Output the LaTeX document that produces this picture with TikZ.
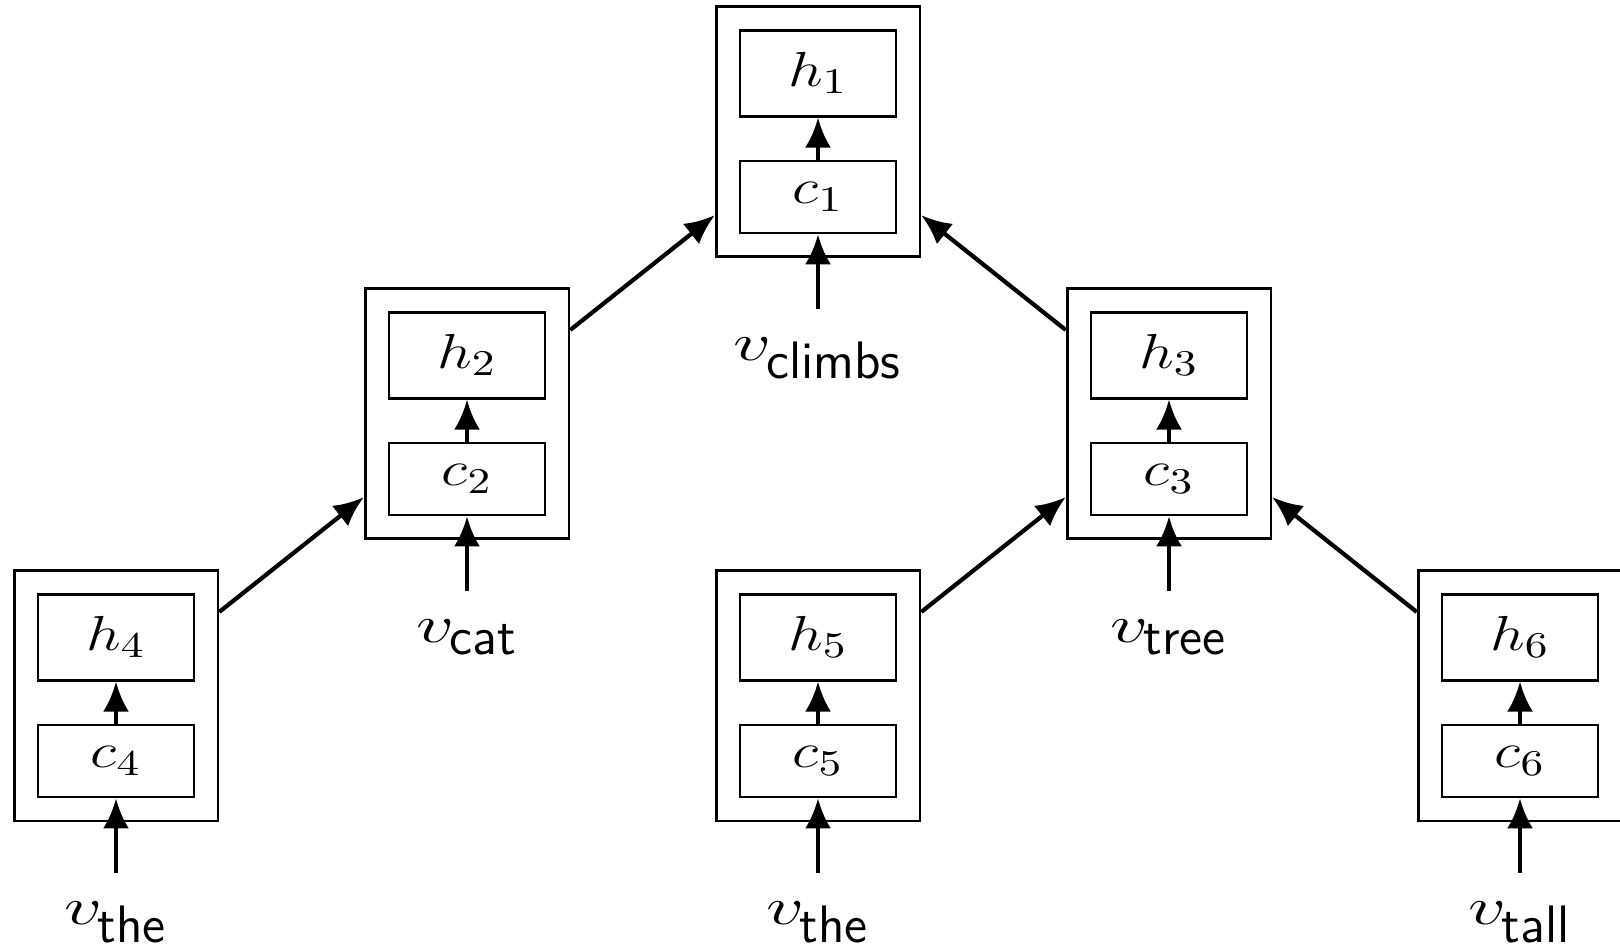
\RequirePackage{fix-cm}
\documentclass[tikz,border=0pt]{standalone}
\usepackage{tikz}
\usetikzlibrary{positioning,fit,arrows.meta}
\DeclareMathSizes{14}{14}{10.3}{8}
\DeclareMathSizes{15}{15}{10.4}{8}
\newcommand{\cellm}[2]{\scalebox{1.25}[1]{$#1_{#2}$}}
\newcommand{\wvec}[1]{${\scalebox{1.42}[1]{$v$}\kern-0.1em}_{\textsf{#1}}$}

\begin{document}
\begin{tikzpicture}[
	font=\fontsize{14}{17}\selectfont,
	hbox/.style={draw, line width=0.8pt, minimum width=1.56cm, minimum height=0.86cm, inner sep=0pt},
	cbox/.style={draw, line width=0.8pt, minimum width=1.56cm, minimum height=0.72cm, inner sep=0pt},
	cell/.style={draw, line width=0.8pt, inner sep=0.225cm},
	vlab/.style={inner sep=0pt, outer sep=0.28cm, font=\fontsize{15}{18}\selectfont},
	arr/.style={-{Latex[length=3mm,width=2.6mm]}, line width=1.2pt}
	]
	\pgfmathsetmacro{\xa}{1.16}
	\pgfmathsetmacro{\dx}{3.51}
	\pgfmathsetmacro{\ya}{-1.97}
	\pgfmathsetmacro{\dy}{2.82}
	\useasboundingbox (0,0) rectangle (16.2,-9.45);
	% cells: c node, h node above, frame round both
	\node[cbox] (c1) at (\xa+2*\dx,\ya) {\cellm{c}{1}};
	\node[hbox, above=0.42cm of c1] (h1) {\cellm{h}{1}};
	\node[cell, fit=(h1)(c1)] (b1) {};
	\node[cbox] (c2) at (\xa+\dx,\ya-\dy) {\cellm{c}{2}};
	\node[hbox, above=0.42cm of c2] (h2) {\cellm{h}{2}};
	\node[cell, fit=(h2)(c2)] (b2) {};
	\node[cbox] (c3) at (\xa+3*\dx,\ya-\dy) {\cellm{c}{3}};
	\node[hbox, above=0.42cm of c3] (h3) {\cellm{h}{3}};
	\node[cell, fit=(h3)(c3)] (b3) {};
	\node[cbox] (c4) at (\xa,\ya-2*\dy) {\cellm{c}{4}};
	\node[hbox, above=0.42cm of c4] (h4) {\cellm{h}{4}};
	\node[cell, fit=(h4)(c4)] (b4) {};
	\node[cbox] (c5) at (\xa+2*\dx,\ya-2*\dy) {\cellm{c}{5}};
	\node[hbox, above=0.42cm of c5] (h5) {\cellm{h}{5}};
	\node[cell, fit=(h5)(c5)] (b5) {};
	\node[cbox] (c6) at (\xa+4*\dx,\ya-2*\dy) {\cellm{c}{6}};
	\node[hbox, above=0.42cm of c6] (h6) {\cellm{h}{6}};
	\node[cell, fit=(h6)(c6)] (b6) {};
	% word vectors
	\node[vlab, below=0.75cm of c1] (v1) {\wvec{climbs}};
	\node[vlab, below=0.75cm of c2] (v2) {\wvec{cat}};
	\node[vlab, below=0.75cm of c3] (v3) {\wvec{tree}};
	\node[vlab, below=0.75cm of c4] (v4) {\wvec{the}};
	\node[vlab, below=0.75cm of c5] (v5) {\wvec{the}};
	\node[vlab, below=0.75cm of c6] (v6) {\wvec{tall}};
	\draw[arr] (v1) -- (c1);
	\draw[arr] (v2) -- (c2);
	\draw[arr] (v3) -- (c3);
	\draw[arr] (v4) -- (c4);
	\draw[arr] (v5) -- (c5);
	\draw[arr] (v6) -- (c6);
	\draw[arr] (c1) -- (h1);
	\draw[arr] (c2) -- (h2);
	\draw[arr] (c3) -- (h3);
	\draw[arr] (c4) -- (h4);
	\draw[arr] (c5) -- (h5);
	\draw[arr] (c6) -- (h6);
	% tree edges
	\draw[arr] (b2.39) -- (b1.219);
	\draw[arr] (b3.141) -- (b1.321);
	\draw[arr] (b4.39) -- (b2.219);
	\draw[arr] (b5.39) -- (b3.219);
	\draw[arr] (b6.141) -- (b3.321);
\end{tikzpicture}
\end{document}
